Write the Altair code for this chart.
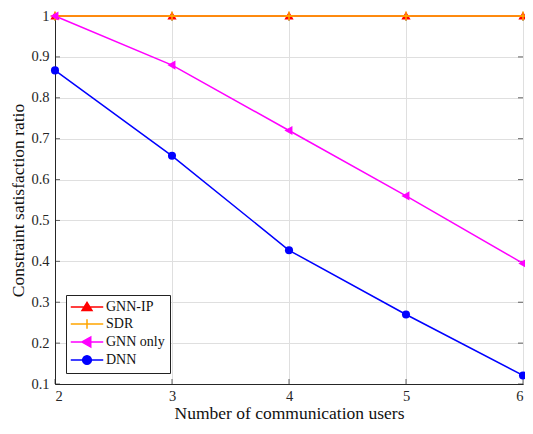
import altair as alt
import pandas as pd

users = [2, 3, 4, 5, 6]
gnn_ip = [1.0, 1.0, 1.0, 1.0, 1.0]
sdr = [1.0, 1.0, 1.0, 1.0, 1.0]
gnn_only = [1.0, 0.88, 0.72, 0.56, 0.395]
dnn = [0.867, 0.658, 0.427, 0.27, 0.121]

series_names = ["GNN-IP", "SDR", "GNN only", "DNN"]
series_vals = [gnn_ip, sdr, gnn_only, dnn]
colors = ["#ff0000", "#ffa500", "#ff00ff", "#0000ff"]
x_ticks = [2, 3, 4, 5, 6]
y_ticks = [0.1, 0.2, 0.3, 0.4, 0.5, 0.6, 0.7, 0.8, 0.9, 1.0]

TRI_UP = "M0,-1L1,0.75L-1,0.75Z"
PLUS = "M-1,0H1M0,-1V1"
TRI_LEFT = "M-1,0L0.75,-1L0.75,1Z"
CIRCLE = "circle"
shapes = [TRI_UP, PLUS, TRI_LEFT, CIRCLE]
leg_shapes = [
    "M-2.6,0H2.6M0,-0.75L0.8,0.55L-0.8,0.55Z",
    "M-2.6,0H2.6M0,-0.75V0.75",
    "M-2.6,0H2.6M-0.8,0L0.6,-0.8L0.6,0.8Z",
    "M-2.6,0H2.6M-0.7,0A0.7,0.7,0,1,0,0.7,0A0.7,0.7,0,1,0,-0.7,0Z",
]

rows = []
for name, vals in zip(series_names, series_vals):
    for u, v in zip(users, vals):
        rows.append({"users": u, "ratio": v, "series": name})
df = pd.DataFrame(rows)

FONT = "'Liberation Serif', 'Times New Roman', Times, serif"
xs = alt.Scale(domain=[2, 6], nice=False)
ys = alt.Scale(domain=[0.1, 1.0], nice=False)
cscale = alt.Scale(domain=series_names, range=colors)
sscale = alt.Scale(domain=series_names, range=leg_shapes)

legend = alt.Legend(
    title=None,
    orient="bottom-left",
    offset=11,
    fillColor="white",
    strokeColor="#222222",
    padding=5,
    labelFont=FONT,
    labelFontSize=14,
    labelColor="#111111",
    symbolSize=156,
    symbolStrokeWidth=1.5,
    symbolOpacity=1,
    symbolOffset=9,
    rowPadding=2,
    labelOffset=12,
)

axis_style = dict(
    labelFont=FONT, titleFont=FONT, labelFontSize=14.5, titleFontSize=17.5,
    labelColor="#262626", titleColor="#111111", titleFontWeight="normal",
    gridColor="#dfdfdf", gridWidth=1, domainColor="#262626", domainWidth=1,
    grid=True, tickSize=0,
)
x_axis = alt.Axis(values=x_ticks, format="d", title="Number of communication users",
                  labelPadding=5, titlePadding=2, **axis_style)
y_axis = alt.Axis(values=y_ticks, format="~g", title="Constraint satisfaction ratio",
                  labelPadding=6, titlePadding=3, **axis_style)

layers = []
# inward ticks
ytick_df = pd.DataFrame({"y": y_ticks})
xtick_df = pd.DataFrame({"x": x_ticks})
for xv, off in [(2, 2.5), (6, -2.5)]:
    layers.append(
        alt.Chart(ytick_df).mark_tick(orient="horizontal", size=5, thickness=1,
                                      color="#262626", xOffset=off, clip=False)
        .encode(x=alt.datum(xv, scale=xs), y=alt.Y("y:Q", scale=ys, axis=y_axis))
    )
for yv, off in [(0.1, -2.5), (1.0, 2.5)]:
    layers.append(
        alt.Chart(xtick_df).mark_tick(orient="vertical", size=5, thickness=1,
                                      color="#262626", yOffset=off, clip=False)
        .encode(x=alt.X("x:Q", scale=xs, axis=x_axis), y=alt.datum(yv, scale=ys))
    )

for i, (name, shp) in enumerate(zip(series_names, shapes)):
    base = alt.Chart(df).transform_filter(alt.datum.series == name)
    line = base.mark_line(strokeWidth=1.5, clip=False, color=colors[i]).encode(
        x=alt.X("users:Q", scale=xs, axis=x_axis),
        y=alt.Y("ratio:Q", scale=ys, axis=y_axis),
    )
    if name == "SDR":
        pt = base.mark_point(shape=shp, filled=False, size=80, strokeWidth=1.5,
                             opacity=1, clip=False, color=colors[i])
    else:
        pt = base.mark_point(shape=shp, filled=True, size=85 if name != "DNN" else 65,
                             opacity=1, clip=False, color=colors[i])
    pt = pt.encode(x=alt.X("users:Q", scale=xs), y=alt.Y("ratio:Q", scale=ys))
    layers.append(line)
    layers.append(pt)

# legend-only layer (no marks drawn; explicit scale domains feed the legend)
leg_layer = (
    alt.Chart(df)
    .transform_filter("false")
    .mark_point(filled=True, strokeWidth=1.5)
    .encode(
        x=alt.X("users:Q", scale=xs),
        y=alt.Y("ratio:Q", scale=ys),
        fill=alt.Fill("series:N", scale=cscale, legend=legend),
        stroke=alt.Stroke("series:N", scale=cscale, legend=legend),
        shape=alt.Shape("series:N", scale=sscale, legend=legend),
    )
)
layers.append(leg_layer)

chart = (
    alt.layer(*layers)
    .properties(
        width=468,
        height=368,
        autosize=alt.AutoSizeParams(type="none"),
        padding={"left": 47, "top": 8, "right": 2, "bottom": 42},
    )
    .configure_view(stroke="#262626", strokeWidth=1)
)

chart.save("out.html", embed_options={"renderer": "svg", "actions": False})
